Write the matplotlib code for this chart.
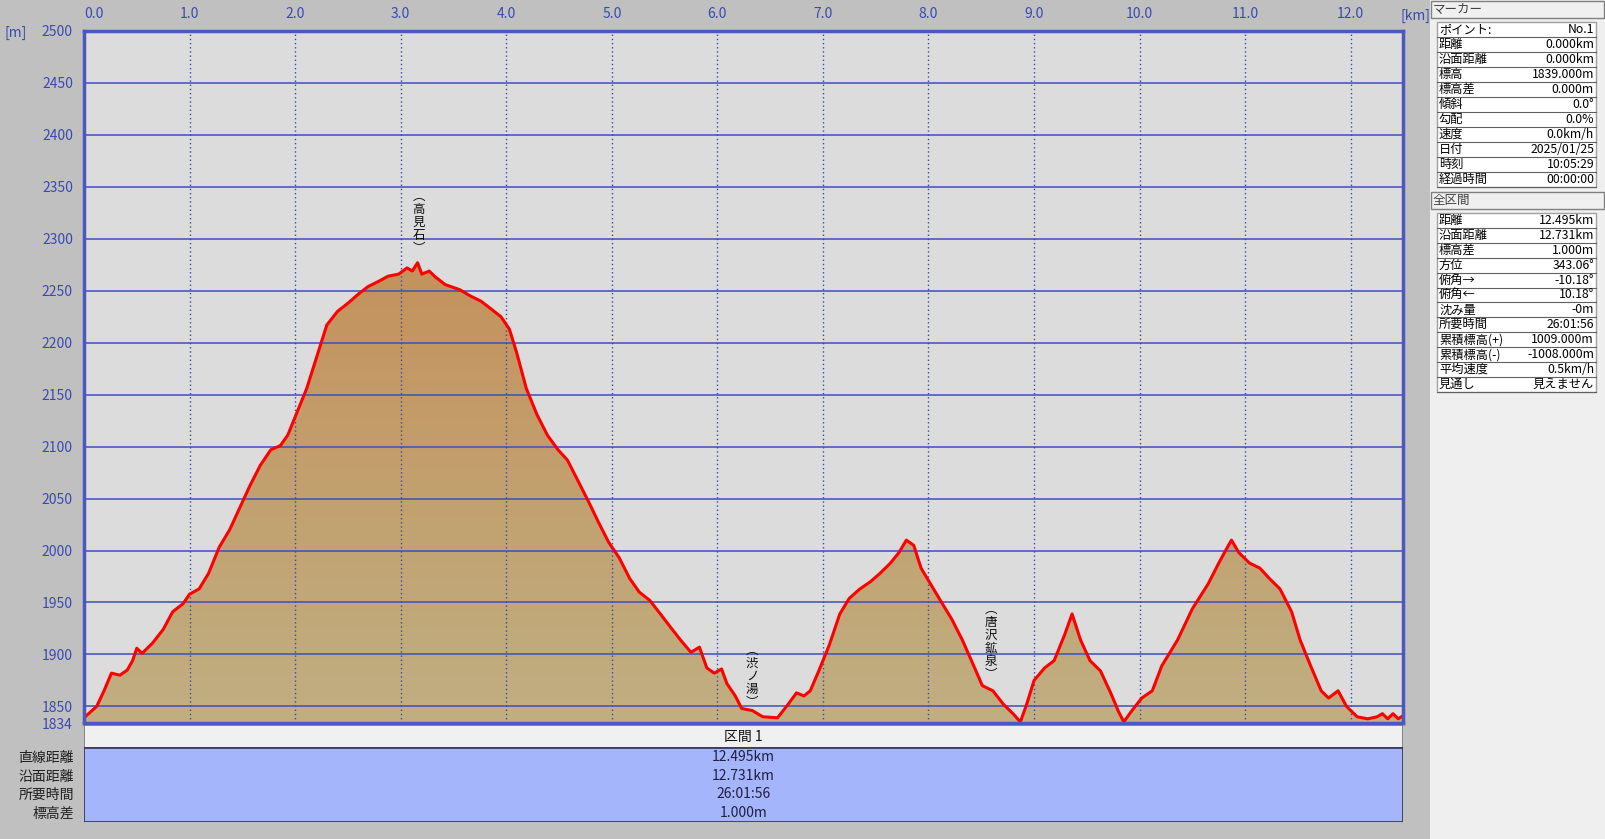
import numpy as np
import matplotlib
matplotlib.use("Agg")
import matplotlib.pyplot as plt
import matplotlib.patches as patches
from matplotlib.colors import LinearSegmentedColormap

plt.rcParams['font.family'] = ['Noto Sans CJK JP', 'DejaVu Sans']

# elevation profile (km, m)
dist_km = [0.00, 0.12, 0.19, 0.26, 0.34, 0.41, 0.46, 0.50, 0.55, 0.65, 0.75, 0.84, 0.94, 1.00,
           1.09, 1.18, 1.28, 1.38, 1.48, 1.57, 1.67, 1.77, 1.86, 1.93, 2.01, 2.11, 2.20, 2.30,
           2.40, 2.50, 2.59, 2.69, 2.79, 2.88, 2.98, 3.06, 3.11, 3.16, 3.20, 3.27, 3.32, 3.42,
           3.56, 3.66, 3.76, 3.85, 3.95, 4.03, 4.10, 4.19, 4.29, 4.39, 4.49, 4.58, 4.68, 4.78,
           4.87, 4.97, 5.07, 5.17, 5.26, 5.36, 5.46, 5.55, 5.65, 5.75, 5.83, 5.90, 5.97, 6.04,
           6.09, 6.17, 6.23, 6.33, 6.43, 6.57, 6.67, 6.75, 6.82, 6.88, 6.96, 7.06, 7.16, 7.25,
           7.35, 7.45, 7.54, 7.64, 7.72, 7.79, 7.86, 7.93, 8.03, 8.13, 8.22, 8.32, 8.42, 8.51,
           8.61, 8.71, 8.81, 8.87, 8.93, 9.00, 9.10, 9.19, 9.29, 9.36, 9.44, 9.53, 9.63, 9.73,
           9.80, 9.85, 9.92, 10.02, 10.12, 10.21, 10.36, 10.50, 10.65, 10.75, 10.82, 10.87,
           10.94, 11.04, 11.14, 11.23, 11.33, 11.44, 11.52, 11.62, 11.72, 11.79, 11.88, 11.96,
           12.06, 12.16, 12.25, 12.30, 12.35, 12.40, 12.45, 12.495]
elev_m = [1839, 1850, 1865, 1882, 1880, 1885, 1894, 1906, 1901, 1911, 1924, 1941, 1949, 1958,
          1963, 1978, 2003, 2020, 2042, 2062, 2082, 2097, 2101, 2111, 2131, 2156, 2185, 2217,
          2230, 2238, 2246, 2254, 2259, 2264, 2266, 2272, 2269, 2277, 2266, 2269, 2264, 2256,
          2251, 2245, 2240, 2233, 2225, 2213, 2190, 2156, 2131, 2111, 2097, 2087, 2067, 2047,
          2028, 2008, 1993, 1973, 1960, 1952, 1939, 1927, 1914, 1902, 1907, 1887, 1882, 1886,
          1872, 1860, 1848, 1846, 1840, 1839, 1852, 1863, 1860, 1865, 1884, 1909, 1939, 1954,
          1963, 1970, 1978, 1988, 1998, 2010, 2005, 1983, 1966, 1949, 1934, 1914, 1891, 1870,
          1865, 1852, 1842, 1835, 1852, 1875, 1887, 1894, 1919, 1939, 1914, 1894, 1884, 1862,
          1845, 1835, 1845, 1858, 1865, 1889, 1914, 1944, 1968, 1988, 2001, 2010,
          1998, 1988, 1983, 1973, 1963, 1941, 1914, 1889, 1865, 1858, 1865, 1850,
          1840, 1838, 1840, 1843, 1838, 1843, 1838, 1841]

x_ticks = [0.0, 1.0, 2.0, 3.0, 4.0, 5.0, 6.0, 7.0, 8.0, 9.0, 10.0, 11.0, 12.0]
y_ticks = [1834, 1850, 1900, 1950, 2000, 2050, 2100, 2150, 2200, 2250, 2300, 2350, 2400, 2450, 2500]
x_max, y_min, y_max = 12.495, 1834, 2500

place_names = ["高見石", "渋ノ湯", "唐沢鉱泉"]
place_km = [3.17, 6.33, 8.59]
place_elev = [2316, 1879, 1912]

row_labels = ["直線距離", "沿面距離", "所要時間", "標高差"]
row_values = ["12.495km", "12.731km", "26:01:56", "1.000m"]

marker_keys = ["ポイント:", "距離", "沿面距離", "標高", "標高差", "傾斜", "勾配", "速度",
               "日付", "時刻", "経過時間"]
marker_vals = ["No.1", "0.000km", "0.000km", "1839.000m", "0.000m", "0.0°", "0.0%",
               "0.0km/h", "2025/01/25", "10:05:29", "00:00:00"]
total_keys = ["距離", "沿面距離", "標高差", "方位", "俯角→", "俯角←", "沈み量", "所要時間",
              "累積標高(+)", "累積標高(-)", "平均速度", "見通し"]
total_vals = ["12.495km", "12.731km", "1.000m", "343.06°", "-10.18°", "10.18°", "-0m",
              "26:01:56", "1009.000m", "-1008.000m", "0.5km/h", "見えません"]

W, H = 1605, 839
fig = plt.figure(figsize=(W / 100, H / 100), dpi=100)
fig.patch.set_facecolor('#c0c0c0')

def fx(px):
    return px / W

def fy(py):
    return 1 - py / H

blue_txt = '#3a4ab0'
grid_blue = '#3f4fb8'

# --- main profile axes ---
ax = fig.add_axes([fx(84), fy(723), fx(1403 - 84), (723 - 31) / H])
ax.set_facecolor('#dcdcdc')

cmap = LinearSegmentedColormap.from_list('ground', ['#c0af82', '#c4925c'])
grad = np.linspace(0, 1, 256).reshape(-1, 1)
im = ax.imshow(grad, cmap=cmap, origin='lower', aspect='auto',
               extent=[0, x_max, y_min, max(elev_m)], zorder=1)
verts = list(zip(dist_km, elev_m)) + [(dist_km[-1], y_min), (dist_km[0], y_min)]
poly = patches.Polygon(verts, closed=True, facecolor='none', edgecolor='none',
                       transform=ax.transData)
ax.add_patch(poly)
im.set_clip_path(poly)
ax.set_xlim(0, x_max)
ax.set_ylim(y_min, y_max)

for yv in y_ticks[1:-1]:
    ax.axhline(yv, color=grid_blue, lw=1.1, zorder=3)
for xv in x_ticks[1:]:
    ax.axvline(xv, color='#3a4aa0', lw=1.0, ls=(0, (1, 2)), zorder=3)

ax.plot(dist_km, elev_m, color='#ff0000', lw=2.2, zorder=4, solid_joinstyle='round')

for name, xk, ye in zip(place_names, place_km, place_elev):
    ax.text(xk, ye, "\n".join(["︵"] + list(name) + ["︶"]), ha='center', va='center',
            fontsize=9, linespacing=1.0, color='#101010', zorder=5)

ax.xaxis.tick_top()
ax.set_xticks(x_ticks)
ax.set_xticklabels([f"{v:.1f}" for v in x_ticks])
ax.set_yticks(y_ticks)
ax.set_yticklabels([str(v) for v in y_ticks])
ax.tick_params(length=0, colors=blue_txt, labelsize=10, pad=8)
ax.tick_params(axis='x', pad=7)
ax.get_xticklabels()[0].set_horizontalalignment('left')
for sp in ax.spines.values():
    sp.set_color('#4a58c0')
    sp.set_linewidth(2.5)
    sp.set_zorder(6)

fig.text(fx(4), fy(33), "[m]", color=blue_txt, fontsize=10, va='center', ha='left')
fig.text(fx(1416), fy(16), "[km]", color=blue_txt, fontsize=10, va='center', ha='center')

# --- section table below the chart ---
tab = fig.add_axes([fx(84), fy(822), fx(1403 - 84), (822 - 725) / H])
tab.set_xlim(0, 1)
tab.set_ylim(0, 97)
tab.axis('off')
tab.add_patch(patches.Rectangle((0, 74), 1, 23, facecolor='#f0f0f0',
                                edgecolor='#707070', lw=1.2))
tab.add_patch(patches.Rectangle((0, 0), 1, 74, facecolor='#a4b5fc',
                                edgecolor='#303050', lw=1.2))
tab.text(0.5, 85.5, "区間 1", ha='center', va='center', fontsize=10, color='#101010')
row_h = 74 / len(row_values)
for i, (lab, val) in enumerate(zip(row_labels, row_values)):
    yc = 74 - row_h * (i + 0.5)
    tab.text(0.5, yc, val, ha='center', va='center', fontsize=10, color='#202040')
    fig.text(fx(74), fy(749 + row_h * (i + 0.5)), lab, ha='right', va='center',
             fontsize=10, color='#202020')

# --- right info panel ---
fig.patches.append(patches.Rectangle((fx(1430), 0), 1 - fx(1430), 1,
                                     transform=fig.transFigure, facecolor='#efefef',
                                     edgecolor='none', zorder=0))

def header(y0, y1, title):
    fig.patches.append(patches.Rectangle((fx(1431), fy(y1)), fx(1604 - 1431), (y1 - y0) / H,
                                         transform=fig.transFigure, facecolor='#f0f0f0',
                                         edgecolor='#808080', lw=1.0, zorder=1))
    fig.text(fx(1433), fy((y0 + y1) / 2), title, ha='left', va='center',
             fontsize=9, color='#404040')

def info_table(y0, keys, vals, row_h):
    y1 = y0 + row_h * len(keys)
    fig.patches.append(patches.Rectangle((fx(1437), fy(y1)), fx(1596 - 1437), (y1 - y0) / H,
                                         transform=fig.transFigure, facecolor='white',
                                         edgecolor='#a0a0a0', lw=1.0, zorder=1))
    for i, (k, v) in enumerate(zip(keys, vals)):
        yc = y0 + row_h * (i + 0.5)
        fig.text(fx(1439), fy(yc), k, ha='left', va='center', fontsize=8.8, color='black')
        fig.text(fx(1594), fy(yc), v, ha='right', va='center', fontsize=8.8, color='black')
        fig.lines.append(plt.Line2D([fx(1437), fx(1596)], [fy(y0 + row_h * (i + 1))] * 2,
                                    transform=fig.transFigure, color='#606060', lw=0.8))

header(1, 18, "マーカー")
info_table(22, marker_keys, marker_vals, 15)
header(192, 209, "全区間")
info_table(213, total_keys, total_vals, 14.9)

fig.savefig("out.png", dpi=100, facecolor=fig.get_facecolor())
